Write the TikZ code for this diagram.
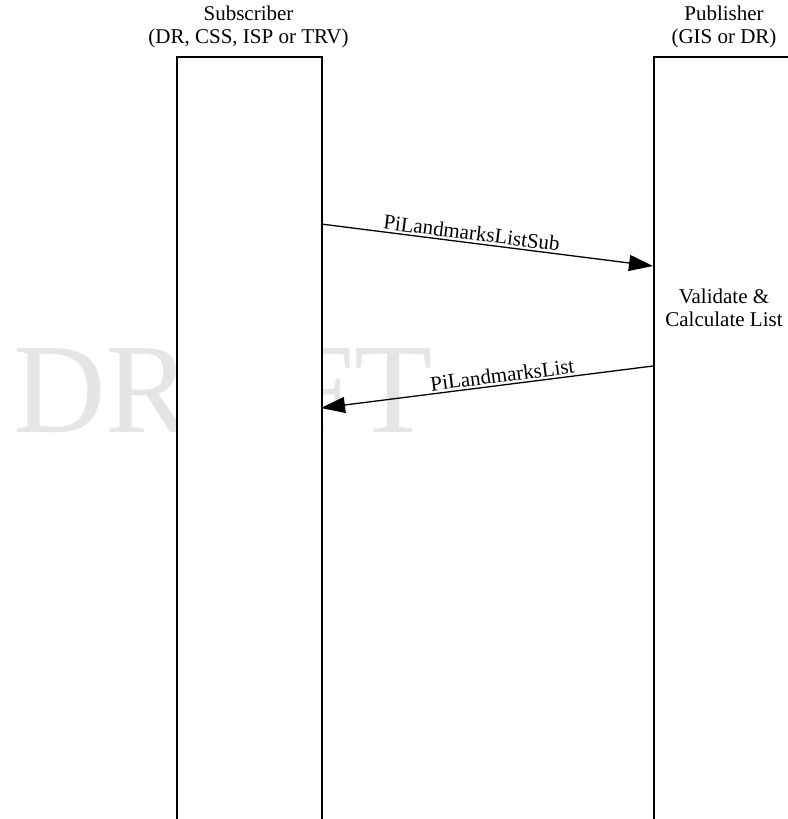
\documentclass[tikz,border=0pt]{standalone}
\usepackage{fontspec}
\setmainfont{Liberation Serif}
\usetikzlibrary{arrows.meta}
\begin{document}
\begin{tikzpicture}[x=1pt,y=-1pt,
  font=\fontsize{21}{23}\selectfont,
  lifebox/.style={draw=black, line width=1.5pt, fill=white, minimum width=145pt, minimum height=800pt, anchor=north west, inner sep=0pt},
  msg/.style={line width=1.3pt, -{Triangle[length=24pt,width=16pt]}},
  lbl/.style={sloped, above, inner sep=2pt},
  txt/.style={align=center, inner sep=0pt}]
\useasboundingbox (0,0) rectangle (787,819);
\node[text=black!10, font=\fontsize{128}{128}\selectfont, anchor=base west, inner sep=0pt] (wm) at (13,432) {DRAFT};
\node[lifebox] (sub) at (176,56) {};
\node[lifebox] (pub) at (653,56) {};
\node[txt] (subt) at (248.5,27) {Subscriber\\(DR, CSS, ISP or TRV)};
\node[txt] (pubt) at (724,27) {Publisher\\(GIS or DR)};
\node[txt] (val) at (724,308) {Validate \&\\Calculate List};
\coordinate (m1s) at (321,224);
\coordinate (m1e) at (653,266);
\coordinate (m2s) at (653,366);
\coordinate (m2e) at (321,408);
\draw[msg] (m1s) -- node[lbl, pos=0.45] {PiLandmarksListSub} (m1e);
\draw[msg] (m2s) -- node[lbl, pos=0.45] {PiLandmarksList} (m2e);
\end{tikzpicture}
\end{document}
